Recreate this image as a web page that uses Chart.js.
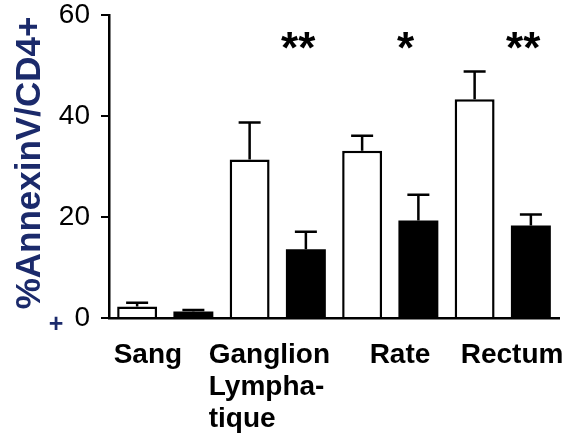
<!DOCTYPE html>
<html><head><meta charset="utf-8">
<script src="https://cdn.jsdelivr.net/npm/chart.js@4"></script>
<style>html,body{margin:0;padding:0;background:#fff}#wrap{width:566px;height:435px}</style>
</head><body><div id="wrap"><canvas id="c" width="566" height="435"></canvas></div>
<script>
// ---- data ----
const categories = ['Sang', 'Ganglion Lymphatique', 'Rate', 'Rectum'];
const categoryLines = [['Sang'], ['Ganglion', 'Lympha-', 'tique'], ['Rate'], ['Rectum']];
const whiteValues = [2.3, 31.4, 33.1, 43.3];
const whiteErrors = [0.7, 7.3, 3.0, 5.5];
const blackValues = [1.3, 13.6, 19.3, 18.3];
const blackErrors = [0.3, 3.5, 5.1, 2.2];
const significance = ['', '**', '*', '**'];
const yTicks = [0, 20, 40, 60];
const yTitle = '%AnnexinV/CD4+';

// ---- styling / placement (not data) ----
const FONT = '"Liberation Sans", Arial, sans-serif';
const labelOffsets = [-51.6, -69, -20.6, -42];
const starOffsets = [0, 20.4, 15.4, 20.4];

const errorBars = {
  id: 'errorBars',
  afterDatasetsDraw(chart) {
    const ctx = chart.ctx, y = chart.scales.y;
    chart.data.datasets.forEach((ds, di) => {
      const meta = chart.getDatasetMeta(di);
      meta.data.forEach((el, i) => {
        const top = y.getPixelForValue(ds.data[i] + ds.errors[i]);
        ctx.save();
        ctx.strokeStyle = '#000';
        ctx.lineWidth = 2.5;
        ctx.beginPath();
        ctx.moveTo(el.x, el.y);
        ctx.lineTo(el.x, top);
        ctx.moveTo(el.x - 11, top);
        ctx.lineTo(el.x + 11, top);
        ctx.stroke();
        ctx.restore();
      });
    });
  }
};

const annotations = {
  id: 'annotations',
  afterDraw(chart) {
    const ctx = chart.ctx, x = chart.scales.x;
    ctx.save();
    // category labels
    ctx.fillStyle = '#000';
    ctx.font = 'bold 28px ' + FONT;
    ctx.textAlign = 'left';
    ctx.textBaseline = 'alphabetic';
    categoryLines.forEach((lines, i) => {
      const px = x.getPixelForValue(i) + labelOffsets[i];
      lines.forEach((t, j) => ctx.fillText(t, px, 363 + j * 32));
    });
    // significance stars
    ctx.font = 'bold 44px ' + FONT;
    ctx.textAlign = 'center';
    significance.forEach((s, i) => {
      if (!s) return;
      ctx.fillText(s, x.getPixelForValue(i) + starOffsets[i], 63);
    });
    // y title
    ctx.fillStyle = '#1b2a6b';
    ctx.font = 'bold 35px ' + FONT;
    ctx.translate(30, 163);
    ctx.rotate(-Math.PI / 2);
    ctx.textAlign = 'center';
    ctx.textBaseline = 'middle';
    ctx.fillText(yTitle, 0, 0);
    ctx.restore();
    ctx.save();
    ctx.fillStyle = '#1b2a6b';
    ctx.font = 'bold 25px ' + FONT;
    ctx.textAlign = 'center';
    ctx.textBaseline = 'middle';
    ctx.fillText('+', 56, 325);
    ctx.restore();
  }
};

new Chart(document.getElementById('c'), {
  type: 'bar',
  data: {
    labels: categories,
    datasets: [
      { data: whiteValues, errors: whiteErrors, backgroundColor: '#fff', borderColor: '#000', borderWidth: 2.5, borderSkipped: 'bottom' },
      { data: blackValues, errors: blackErrors, backgroundColor: '#000', borderColor: '#000', borderWidth: 0 }
    ]
  },
  options: {
    responsive: false,
    devicePixelRatio: 1,
    animation: false,
    barPercentage: 0.71,
    categoryPercentage: 1.0,
    layout: { padding: { left: 0, right: 7, top: 0, bottom: 0 } },
    plugins: { legend: { display: false }, tooltip: { enabled: false } },
    scales: {
      x: {
        grid: { display: false },
        border: { display: true, color: '#000', width: 2.5 },
        ticks: { display: false },
        afterFit(s) { s.height = 117; }
      },
      y: {
        min: 0, max: 60,
        afterBuildTicks(s) { s.ticks = yTicks.map(v => ({ value: v })); },
        ticks: { color: '#000', padding: 11, font: { family: FONT, size: 28 } },
        grid: { drawOnChartArea: false, drawTicks: true, tickLength: 8, color: '#000', lineWidth: 2 },
        border: { display: true, color: '#000', width: 2.5 },
        afterFit(s) { s.width = 109; s.paddingTop = 15; s.paddingBottom = 0; }
      }
    }
  },
  plugins: [errorBars, annotations]
});
</script></body></html>
